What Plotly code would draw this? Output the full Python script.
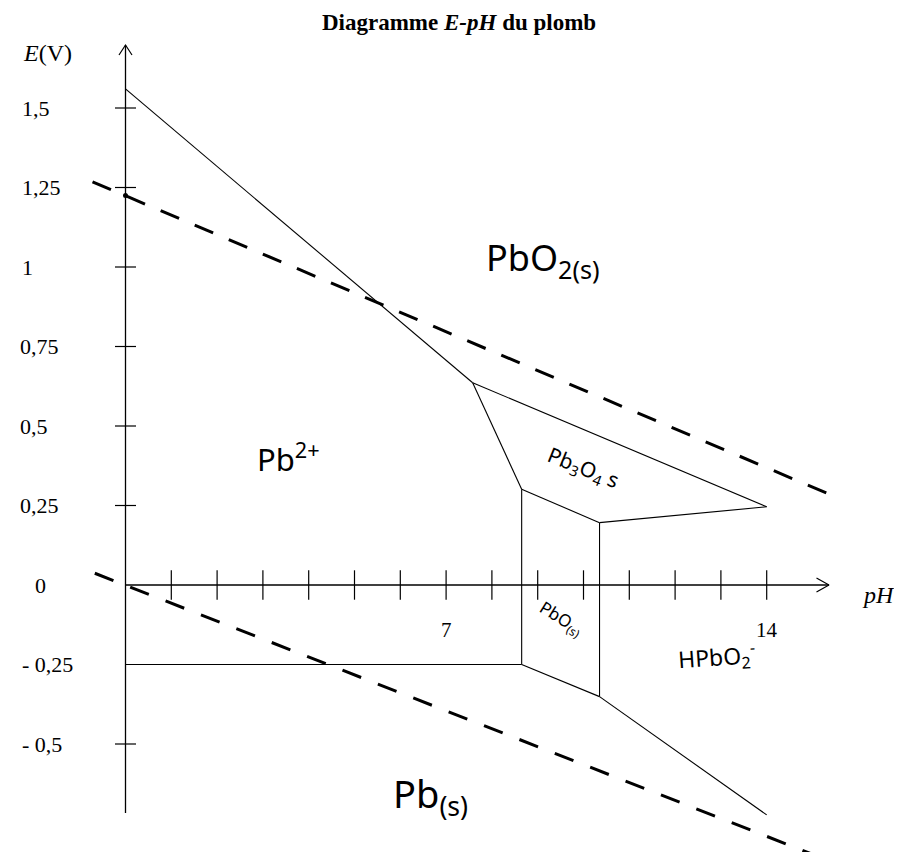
import plotly.graph_objects as go

# ---------------- data ----------------
ph_ticks = [1, 2, 3, 4, 5, 6, 7, 8, 9, 10, 11, 12, 13, 14]
ph_tick_labels = {7: "7", 14: "14"}
E_ticks = [1.5, 1.25, 1.0, 0.75, 0.5, 0.25, 0.0, -0.25, -0.5]
E_tick_labels = ["1,5", "1,25", "1", "0,75", "0,5", "0,25", "0", "- 0,25", "- 0,5"]

# solid boundaries (pH, E)
b_pb2_pbo2_ph = [0.0, 7.58];   b_pb2_pbo2_E = [1.56, 0.636]
b_pb2_pb3o4_ph = [7.58, 8.65]; b_pb2_pb3o4_E = [0.636, 0.301]
b_pbo2_pb3o4_ph = [7.58, 14.0]; b_pbo2_pb3o4_E = [0.636, 0.246]
b_pbo_pb3o4_ph = [8.65, 10.35]; b_pbo_pb3o4_E = [0.301, 0.196]
b_hpbo2_pb3o4_ph = [10.35, 14.0]; b_hpbo2_pb3o4_E = [0.196, 0.246]
b_pb2_pbo_ph = [8.65, 8.65];   b_pb2_pbo_E = [0.301, -0.25]
b_pbo_hpbo2_ph = [10.35, 10.35]; b_pbo_hpbo2_E = [0.196, -0.351]
b_pb2_pb_ph = [0.0, 8.65];     b_pb2_pb_E = [-0.25, -0.25]
b_pbo_pb_ph = [8.65, 10.35];   b_pbo_pb_E = [-0.25, -0.351]
b_hpbo2_pb_ph = [10.35, 14.0]; b_hpbo2_pb_E = [-0.351, -0.723]

solid_segments = [
    (b_pb2_pbo2_ph, b_pb2_pbo2_E), (b_pb2_pb3o4_ph, b_pb2_pb3o4_E),
    (b_pbo2_pb3o4_ph, b_pbo2_pb3o4_E), (b_pbo_pb3o4_ph, b_pbo_pb3o4_E),
    (b_hpbo2_pb3o4_ph, b_hpbo2_pb3o4_E), (b_pb2_pbo_ph, b_pb2_pbo_E),
    (b_pbo_hpbo2_ph, b_pbo_hpbo2_E), (b_pb2_pb_ph, b_pb2_pb_E),
    (b_pbo_pb_ph, b_pbo_pb_E), (b_hpbo2_pb_ph, b_hpbo2_pb_E),
]

# water lines (dashed)
o2_ph = [-0.72, 15.57]; o2_E = [1.268, 0.273]
h2_ph = [-0.67, 15.5];  h2_E = [0.037, -0.875]
o2_dot_ph = [0.0]; o2_dot_E = [1.225]

# axes extents
x_axis_end = 15.36
y_axis_top = 1.698
y_axis_bottom = -0.717

# ---------------- layout geometry ----------------
OFF = 8  # page body margin of the written html
W, H = 902 - OFF, 852 - OFF
x0_px, px_per_ph = 125.5 - OFF, 45.8
y0_px, px_per_V = 585.0 - OFF, 318.0
x_range = [-x0_px / px_per_ph, (W - x0_px) / px_per_ph]
y_range = [-(H - y0_px) / px_per_V, y0_px / px_per_V]

def dxp(p):  # pixels -> pH units
    return p / px_per_ph

def dyp(p):  # pixels -> volts
    return p / px_per_V

def px(xpx):  # page pixel -> paper x
    return (xpx - OFF) / W

def py(ypx):  # page pixel -> paper y
    return 1 - (ypx - OFF) / H

fig = go.Figure()
black = "#000000"

def seg(xs, ys, width=1.1, dash=None, color=black):
    fig.add_trace(go.Scatter(x=xs, y=ys, mode="lines",
                             line=dict(color=color, width=width, dash=dash),
                             hoverinfo="skip", showlegend=False))

# axes
seg([0, x_axis_end], [0, 0], width=1.3)
seg([0, 0], [y_axis_bottom, y_axis_top], width=1.3)
# arrow chevrons
seg([x_axis_end - dxp(12.5), x_axis_end, x_axis_end - dxp(12.5)],
    [dyp(7), 0, -dyp(7)], width=1.2)
seg([-dxp(6.5), 0, dxp(6.5)],
    [y_axis_top - dyp(10), y_axis_top, y_axis_top - dyp(10)], width=1.2)

# tick marks
fig.add_trace(go.Scatter(x=ph_ticks, y=[0] * len(ph_ticks), mode="markers",
                         marker=dict(symbol="line-ns", size=21,
                                     line=dict(color=black, width=1.2)),
                         hoverinfo="skip", showlegend=False))
yt = [v for v in E_ticks if v not in (0.0, -0.25)]
fig.add_trace(go.Scatter(x=[0] * len(yt), y=yt, mode="markers",
                         marker=dict(symbol="line-ew", size=15,
                                     line=dict(color=black, width=1.2)),
                         hoverinfo="skip", showlegend=False))

# boundaries
for xs, ys in solid_segments:
    seg(xs, ys, width=1.1)

# water lines
seg(o2_ph, o2_E, width=3, dash="20px,17px")
seg(h2_ph, h2_E, width=3, dash="20px,18px")
fig.add_trace(go.Scatter(x=o2_dot_ph, y=o2_dot_E, mode="markers",
                         marker=dict(color=black, size=5),
                         hoverinfo="skip", showlegend=False))

annotations = []
serif = "Liberation Serif"
hand = "Noto Sans"

# y tick labels
for v, lab in zip(E_ticks, E_tick_labels):
    xpx = 33 if lab == "0" else (18 if lab.startswith("0,") else 20)
    annotations.append(dict(x=px(xpx), xref="paper", y=v, yref="y",
                            text=lab, showarrow=False, xanchor="left",
                            yanchor="middle",
                            font=dict(family=serif, size=22, color=black)))
# x tick labels
for v, lab in ph_tick_labels.items():
    annotations.append(dict(x=v, y=-dyp(45), xref="x", yref="y", text=lab,
                            showarrow=False, xanchor="center", yanchor="middle",
                            font=dict(family=serif, size=21, color=black)))

def txt(xpx, ypx, text, size, family, angle=0):
    annotations.append(dict(x=px(xpx), y=py(ypx), xref="paper", yref="paper",
                            text=text, showarrow=False, textangle=angle,
                            xanchor="center", yanchor="middle",
                            font=dict(family=family, size=size, color=black)))

# axis titles and title
txt(47, 53, "<i>E</i>(V)", 24, serif)
txt(878, 595, "<i>pH</i>", 24, serif)
txt(459, 22, "<b>Diagramme <i>E-pH</i> du plomb</b>", 23, serif)

# species labels (handwritten in the original)
txt(543, 260, "PbO<sub>2(s)</sub>", 36, hand)
txt(288, 457, "Pb<sup>2+</sup>", 31, hand)
txt(583, 468, "Pb<sub>3</sub>O<sub>4</sub> s", 21, hand, 22)
txt(561, 618, "PbO<sub>(s)</sub>", 17, hand, 32)
txt(716, 657, "HPbO<sub>2</sub><sup>-</sup>", 23, hand, -4)
txt(430, 795, "Pb<sub>(s)</sub>", 38, hand)

fig.update_layout(
    width=W, height=H,
    margin=dict(l=0, r=0, t=0, b=0),
    paper_bgcolor="white", plot_bgcolor="white",
    xaxis=dict(range=x_range, visible=False, fixedrange=True),
    yaxis=dict(range=y_range, visible=False, fixedrange=True),
    annotations=annotations,
    showlegend=False,
)

fig.write_html("out.html", config={"displayModeBar": False})
